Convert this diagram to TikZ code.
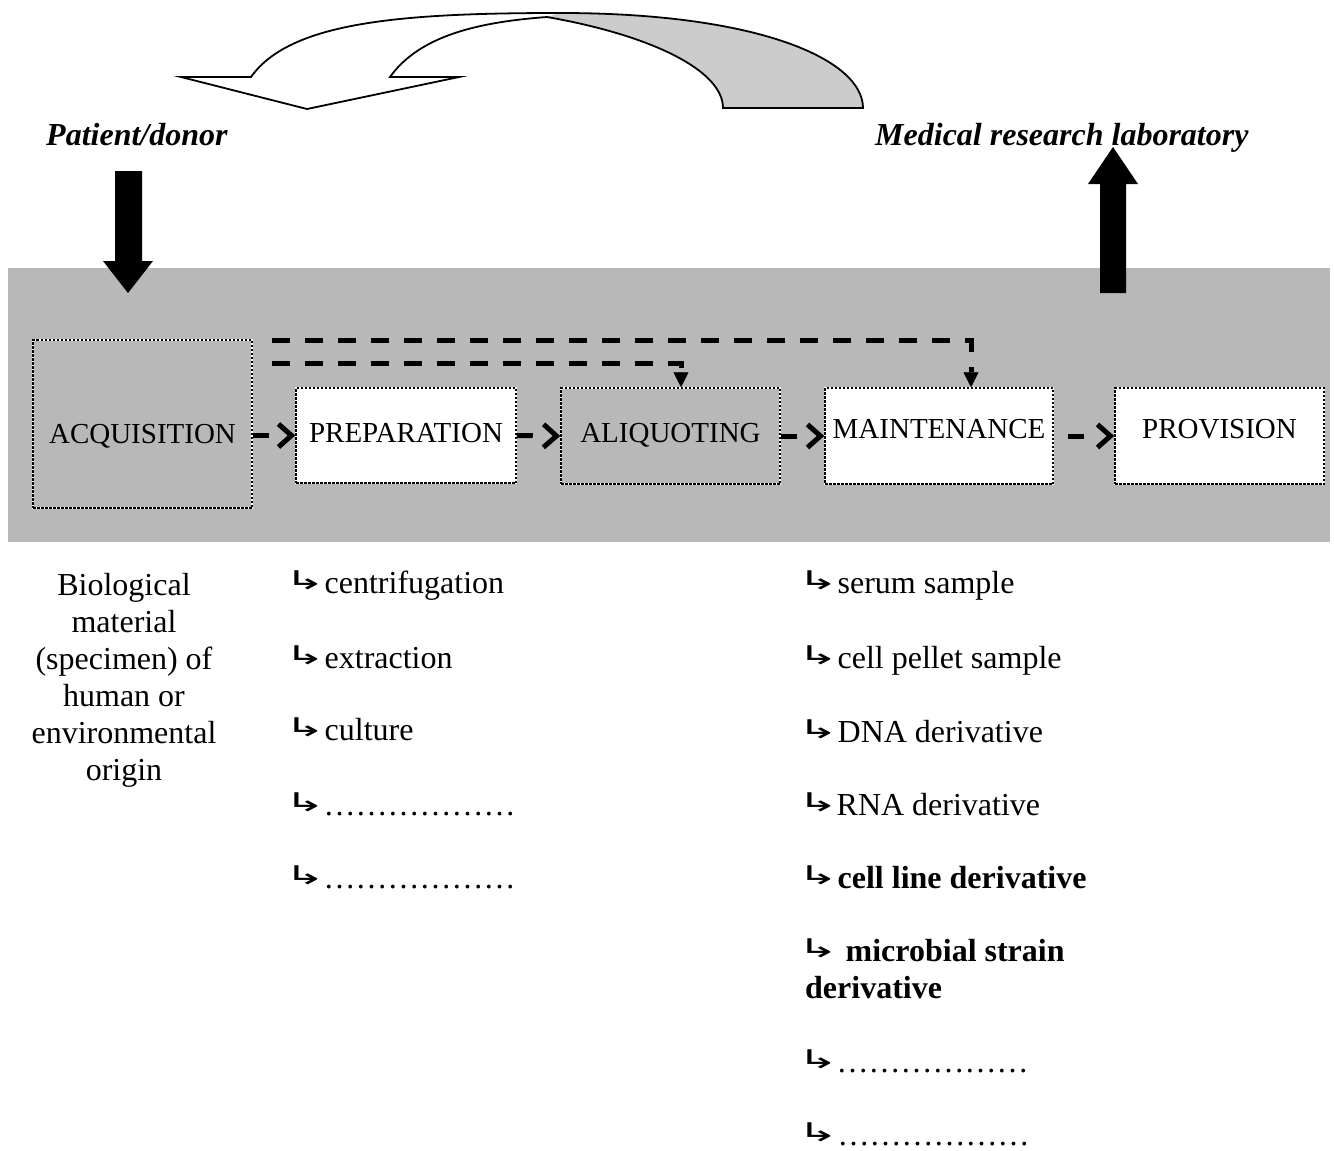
\documentclass[tikz,border=0pt]{standalone}
\usepackage{graphicx}
\usepackage{fontspec}
\setmainfont{Liberation Serif}
\newfontfamily\arrfont{DejaVu Sans}
\usetikzlibrary{arrows.meta}
\definecolor{band}{gray}{0.72}
\definecolor{ribbon}{gray}{0.8}
\newcommand\hookarr{\hspace*{-8pt}\raisebox{4pt}{\scalebox{1.5}[0.78]{\arrfont\fontsize{33pt}{36pt}\selectfont ↳}}\hspace*{-9pt}}
\newcommand\hooktight{\hookarr\hspace*{7pt}}
\begin{document}
\begin{tikzpicture}[x=1pt,y=-1pt,
  stage/.style={draw=white, line width=1.5pt, inner sep=0pt,
    font=\fontsize{29pt}{34pt}\selectfont, text height=20pt, text depth=7pt,
    postaction={draw=black, line width=1.5pt, dash pattern=on 2.5pt off 1.5pt}},
  item/.style={anchor=base west, inner sep=0pt, font=\fontsize{32pt}{37pt}\selectfont},
  who/.style={anchor=base west, inner sep=0pt, font=\fontsize{32pt}{37pt}\selectfont\bfseries\itshape},
  flow/.style={line width=5pt, dash pattern=on 16pt off 80pt,
    -{Straight Barb[length=13pt,width=23pt,line width=5pt]}},
  jump/.style={line width=5pt, dash pattern=on 18pt off 15pt,
    -{Triangle[length=15pt,width=15pt,line width=0.5pt]}},
  bigarrow/.style={fill=black}
]
\useasboundingbox (0,0) rectangle (1334,1151);
% grey band
\fill[band] (8,268) rectangle (1330,542);

% curved ribbon arrow at top
\fill[ribbon] (547,17) .. controls (650,35) and (723,70) .. (723,108)
  -- (863,108) .. controls (863,60) and (760,13) .. (560,13) -- cycle;
\draw[line width=1.8pt, line join=miter]
  (251,77) .. controls (290,22) and (400,13) .. (560,13)
  .. controls (760,13) and (863,60) .. (863,108)
  -- (723,108)
  .. controls (723,70) and (650,35) .. (547,17)
  .. controls (480,22) and (420,35) .. (390,77)
  -- (459,77) -- (307,109) -- (181,77) -- cycle;

% labels
\node[who] (patient) at (46,145) {Patient/donor};
\node[who] (lab) at (875,145) {Medical research laboratory};

% big arrows
\fill[bigarrow] (115,171) -- (142,171) -- (142,261) -- (153,261) -- (128,293)
  -- (103,261) -- (115,261) -- cycle;
\fill[bigarrow] (1100,293) -- (1126,293) -- (1126,184) -- (1138,184) -- (1113,147)
  -- (1088,184) -- (1100,184) -- cycle;

% stages
\node[stage, fill=band, minimum width=219pt, minimum height=168pt,
  text height=38pt, text depth=0pt] (acq) at (142.5,424) {ACQUISITION};
\node[stage, fill=white, minimum width=220pt, minimum height=95pt] (prep) at (406,435.5) {PREPARATION};
\node[stage, fill=band, minimum width=219pt, minimum height=96pt] (aliq) at (670.5,436) {ALIQUOTING};
\node[stage, fill=white, minimum width=228pt, minimum height=96pt,
  text height=20pt, text depth=16pt] (maint) at (939,436) {MAINTENANCE};
\node[stage, fill=white, minimum width=209pt, minimum height=96pt,
  text height=20pt, text depth=16pt] (prov) at (1219.5,436) {PROVISION};

% flow connectors
\draw[flow] (acq.east |- prep.west) -- (prep.west);
\draw[flow] (prep.east) -- (aliq.west);
\draw[flow] (aliq.east) -- (maint.west);
\draw[flow, shorten <=14pt] (maint.east) -- (prov.west);

% skip connectors
\coordinate (j1) at (272,340);
\coordinate (j2) at (272,363);
\draw[jump] (j1) -| ([xshift=32pt]maint.north);
\draw[jump] (j2) -| ([xshift=10.5pt]aliq.north);

% source description (base anchor = baseline of last line)
\node[anchor=base, align=center, inner sep=0pt, font=\fontsize{32pt}{37pt}\selectfont]
  (bio) at (124,780) {Biological\\material\\(specimen) of\\human or\\environmental\\origin};

% preparation list
\node[item] (p1) at (292,593) {\hookarr{} centrifugation};
\node[item] (p2) at (292,668) {\hookarr{} extraction};
\node[item] (p3) at (292,740) {\hookarr{} culture};
\node[item] (p4) at (292,815) {\hooktight………………};
\node[item] (p5) at (292,888) {\hooktight………………};

% maintenance list
\node[item] (m1) at (805,593) {\hookarr{} serum sample};
\node[item] (m2) at (805,668) {\hookarr{} cell pellet sample};
\node[item] (m3) at (805,742) {\hookarr{} DNA derivative};
\node[item] (m4) at (805,815) {\hooktight RNA derivative};
\node[item] (m5) at (805,888) {\hookarr{} \textbf{cell line derivative}};
\node[item, align=left] (m6) at (805,998) {\hookarr\ \ \textbf{microbial strain}\\\textbf{derivative}};
\node[item] (m7) at (805,1072) {\hooktight………………};
\node[item] (m8) at (805,1145) {\hookarr{} ………………};
\end{tikzpicture}
\end{document}
